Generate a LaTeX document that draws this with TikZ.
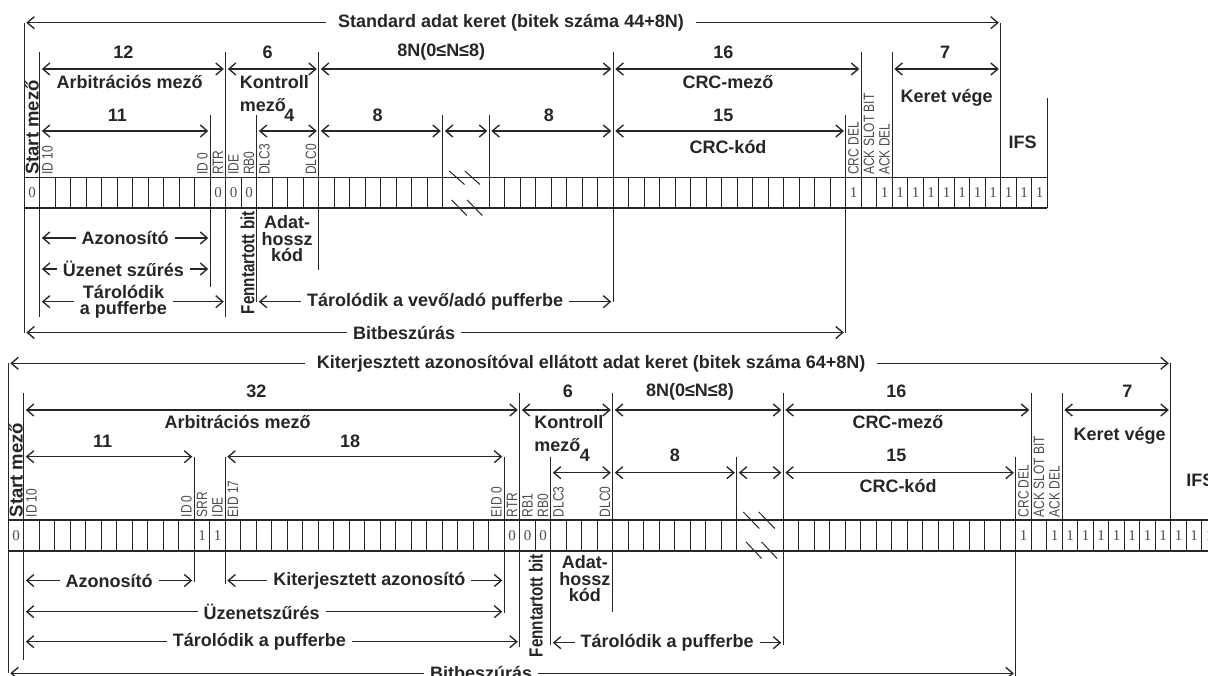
\documentclass[tikz,border=0pt]{standalone}
\usepackage{fontspec}
\setmainfont{Liberation Sans}
\newfontfamily\narrowfont[FakeStretch=0.8]{Liberation Sans}
\newfontfamily\valfont{Liberation Serif}
\usetikzlibrary{arrows.meta}

\tikzset{
  dim/.style={{Straight Barb[length=7pt,width=12pt]}-{Straight Barb[length=7pt,width=12pt]},shorten <=2pt,shorten >=2pt},
  lbl/.style={font=\fontsize{18}{20}\selectfont\bfseries,inner sep=1pt},
  gap/.style={lbl,fill=white,inner xsep=6pt},
  twoline/.style={lbl,align=center,font=\fontsize{18}{16.5}\selectfont\bfseries},
  ctl/.style={lbl,align=left,anchor=west,font=\fontsize{18}{23}\selectfont\bfseries},
  bitlbl/.style={rotate=90,anchor=west,inner xsep=1pt,inner ysep=0pt,text=black!70,font=\narrowfont\fontsize{15}{15}\selectfont},
  val/.style={inner sep=0pt,text=black!70,font=\valfont\fontsize{15}{15}\selectfont},
  sof/.style={rotate=90,anchor=west,inner sep=1pt,font=\fontsize{18.5}{18.5}\selectfont\bfseries},
  rsv/.style={rotate=90,anchor=east,inner sep=1pt,font=\narrowfont\fontsize{19}{19}\selectfont\bfseries}
}

\begin{document}
\begin{tikzpicture}[x=1pt,y=-1pt,line width=1.35pt,color=black!85]
    \useasboundingbox (0,0) rectangle (1208,676);

    % standard frame
    \begin{scope}[xshift=24.3pt,x=15.5pt]
    \draw (0,177.5)--(66,177.5) (0,208)--(66,208);
    \foreach \j in {0,1,...,27} \draw (\j,177.5)--(\j,208);
    \foreach \j in {30,31,...,66} \draw (\j,177.5)--(\j,208);
    \foreach \d in {0,1}
        \draw[line width=1pt] (27.42+\d,171)--(28.4+\d,184.5) (27.57+\d,200)--(28.55+\d,215.5);
    \foreach \j in {0,12,13,14} \node[val] (zT\j) at (\j+0.5,192.5) {0};
    \foreach \j in {53,55,56,...,65} \node[val] (oT\j) at (\j+0.5,192.5) {1};
    \foreach \j/\t in {1/ID 10,11/ID 0,12/RTR,13/IDE,14/RB0,15/DLC3,18/DLC0,53/CRC DEL,54/ACK SLOT BIT,55/ACK DEL}
        \node[bitlbl] (nT\j) at (\j+0.5,176.5) {\t};
    \node[sof] (sofT) at (0.5,176.5) {Start mező};

    \draw (0,22.7)--(0,333);
    \draw (1,51.7)--(1,316.7);
    \draw (12,115)--(12,286.7);
    \draw (13,51.7)--(13,316.7);
    \draw (15,115)--(15,301.7);
    \draw (19,51.7)--(19,270);
    \draw (27,115)--(27,177.5);
    \draw (30,115)--(30,177.5);
    \draw (38,51.7)--(38,301.7);
    \draw (53,115)--(53,333);
    \draw (54,51.7)--(54,177.5);
    \draw (56,51.7)--(56,177.5);
    \draw (63,22.7)--(63,177.5);
    \draw (66,98.3)--(66,208);

    \draw[dim] (0,22.7)--(63,22.7);
    \node[gap,inner xsep=12pt] (titT) at (31.4,22.7) {Standard adat keret (bitek száma 44+8N)};
    \foreach \a/\b in {1/13,13/19,19/38,38/54,56/63} \draw[dim] (\a,69)--(\b,69);
    \foreach \a/\b in {1/12,15/19,19/27,27/30,30/38,38/53} \draw[dim] (\a,131)--(\b,131);

    \node[lbl] (n12T) at (6.4,52) {12};
    \node[lbl] (arbT) at (6.8,82) {Arbitrációs mező};
    \node[lbl] (n6T) at (15.7,52) {6};
    \node[ctl] (ctlT) at (13.8,93.5) {Kontroll\\mező};
    \node[lbl] (n8NT) at (26.9,52) {8N(0≤N≤8)};
    \node[lbl] (n16T) at (45.1,52) {16};
    \node[lbl] (crcfT) at (45.4,82) {CRC-mező};
    \node[lbl] (n7T) at (59.4,52) {7};
    \node[lbl] (eofT) at (59.5,98) {Keret vége};
    \node[lbl] (n11T) at (6,115) {11};
    \node[lbl] (n4T) at (17.1,115) {4};
    \node[lbl] (n8aT) at (22.8,115) {8};
    \node[lbl] (n8bT) at (33.85,115) {8};
    \node[lbl] (n15T) at (45.1,115) {15};
    \node[lbl] (crckT) at (45.4,147) {CRC-kód};
    \node[lbl] (ifsT) at (64.4,142) {IFS};

    \draw[dim] (1,238)--(12,238);
    \node[gap] (idT) at (6.5,238) {Azonosító};
    \draw[dim] (1,269)--(12,269);
    \node[gap] (filT) at (6.4,269) {Üzenet szűrés};
    \draw[dim] (1,301.7)--(13,301.7);
    \node[twoline,fill=white,inner xsep=6pt] (bufT) at (6.4,301.7) {Tárolódik\\a pufferbe};
    \draw[dim] (15,301.7)--(38,301.7);
    \node[gap] (bufbT) at (26.5,301.7) {Tárolódik a vevő/adó pufferbe};
    \draw[dim] (0,332.5)--(53,332.5);
    \node[gap] (stfT) at (24.5,332.5) {Bitbeszúrás};
    \node[rsv] (rsvT) at (14.4,209.5) {Fenntartott bit};
    \node[twoline] (dlcT) at (16.95,239) {Adat-\\hossz\\kód};
    \end{scope}

    % extended frame
    \begin{scope}[xshift=8.3pt,x=15.5pt]
    \draw (0,520)--(78,520) (0,551)--(78,551);
    \foreach \j in {0,1,...,47} \draw (\j,520)--(\j,551);
    \foreach \j in {50,51,...,78} \draw (\j,520)--(\j,551);
    \foreach \d in {0,1}
        \draw[line width=1pt] (47.42+\d,512)--(48.45+\d,528.5) (47.6+\d,542)--(48.6+\d,558.5);
    \foreach \j in {0,32,33,34} \node[val] (zE\j) at (\j+0.5,535.5) {0};
    \foreach \j in {12,13,65,67,68,...,77} \node[val] (oE\j) at (\j+0.5,535.5) {1};
    \foreach \j/\t in {1/ID 10,11/ID 0,12/SRR,13/IDE,14/EID 17,31/EID 0,32/RTR,33/RB1,34/RB0,35/DLC3,38/DLC0,65/CRC DEL,66/ACK SLOT BIT,67/ACK DEL}
        \node[bitlbl] (nE\j) at (\j+0.5,519) {\t};
    \node[sof] (sofE) at (0.5,519) {Start mező};

    \draw (0,363.3)--(0,673.3);
    \draw (1,393)--(1,660);
    \draw (12,456.7)--(12,582);
    \draw (14,456.7)--(14,584);
    \draw (32,456.7)--(32,613.3);
    \draw (33,393)--(33,646.7);
    \draw (35,456.7)--(35,645);
    \draw (39,393)--(39,611.7);
    \draw (47,456.7)--(47,520);
    \draw (50,393)--(50,645);
    \draw (65,456.7)--(65,676);
    \draw (66,393)--(66,520);
    \draw (68,393)--(68,520);
    \draw (75,363.3)--(75,520);
    \draw (78,439)--(78,551);

    \draw[dim] (0,363.3)--(75,363.3);
    \node[gap,inner xsep=12pt] (titE) at (37.6,363.3) {Kiterjesztett azonosítóval ellátott adat keret (bitek száma 64+8N)};
    \foreach \a/\b in {1/33,33/39,39/50,50/66,68/75} \draw[dim] (\a,410)--(\b,410);
    \foreach \a/\b in {1/12,14/32} \draw[dim] (\a,456.7)--(\b,456.7);
    \foreach \a/\b in {35/39,39/47,47/50,50/65} \draw[dim] (\a,472.7)--(\b,472.7);

    \node[lbl] (n32E) at (16,391.7) {32};
    \node[lbl] (arbE) at (14.8,421.7) {Arbitrációs mező};
    \node[lbl] (n11E) at (6.09,441.7) {11};
    \node[lbl] (n18E) at (22.05,441.7) {18};
    \node[lbl] (n6E) at (36.1,391.7) {6};
    \node[ctl] (ctlE) at (33.83,433.2) {Kontroll\\mező};
    \node[lbl] (n8NE) at (43.98,391.7) {8N(0≤N≤8)};
    \node[lbl] (n4E) at (37.2,455) {4};
    \node[lbl] (n8E) at (43,455) {8};
    \node[lbl] (n16E) at (57.3,391.7) {16};
    \node[lbl] (crcfE) at (57.4,421.7) {CRC-mező};
    \node[lbl] (n15E) at (57.3,455) {15};
    \node[lbl] (crckE) at (57.4,485.7) {CRC-kód};
    \node[lbl] (n7E) at (72.2,391.7) {7};
    \node[lbl] (eofE) at (71.7,436) {Keret vége};
    \node[lbl] (ifsE) at (76.9,480) {IFS};

    \draw[dim] (1,580.5)--(12,580.5);
    \node[gap] (idE) at (6.5,580.5) {Azonosító};
    \draw[dim] (14,580.5)--(32,580.5);
    \node[gap] (xidE) at (23.3,580.5) {Kiterjesztett azonosító};
    \draw[dim] (1,611.7)--(32,611.7);
    \node[gap] (filE) at (16.35,611.7) {Üzenetszűrés};
    \draw[dim] (1,641.7)--(33,641.7);
    \node[gap] (bufE) at (16.2,641.7) {Tárolódik a pufferbe};
    \draw[dim] (35,642.7)--(50,642.7);
    \node[gap] (bufbE) at (42.5,642.7) {Tárolódik a pufferbe};
    \draw[dim] (0,673.3)--(65,673.3);
    \node[gap] (stfE) at (30.5,673.3) {Bitbeszúrás};
    \node[rsv] (rsvE) at (34.03,552.5) {Fenntartott bit};
    \node[twoline] (dlcE) at (37.2,579) {Adat-\\hossz\\kód};
    \end{scope}

\end{tikzpicture}
\end{document}
